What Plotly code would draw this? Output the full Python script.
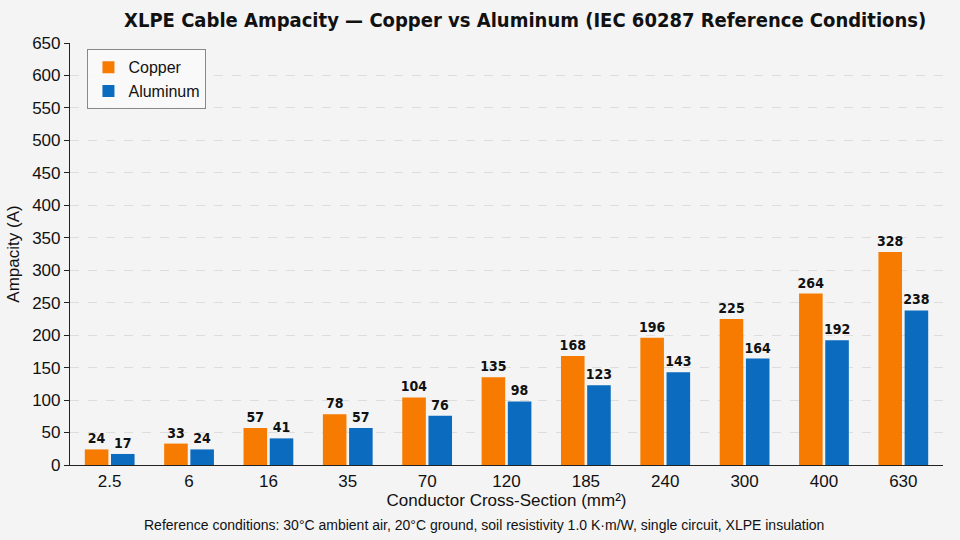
import plotly.graph_objects as go

sizes = ["2.5", "6", "16", "35", "70", "120", "185", "240", "300", "400", "630"]
copper = [24, 33, 57, 78, 104, 135, 168, 196, 225, 264, 328]
aluminum = [17, 24, 41, 57, 76, 98, 123, 143, 164, 192, 238]

ORANGE = "#F77B00"
BLUE = "#0B6BBE"
COND = "DejaVu Sans Condensed, Liberation Sans Narrow, Arial Narrow, sans-serif"
LBL_FONT = dict(family=COND, size=14, color="#111111")

fig = go.Figure()
fig.add_bar(x=sizes, y=copper, name="Copper", marker=dict(color=ORANGE, line=dict(width=0)),
            text=[f"<b>{v}</b>" for v in copper], textposition="outside", textfont=LBL_FONT,
            cliponaxis=False, constraintext="none")
fig.add_bar(x=sizes, y=aluminum, name="Aluminum", marker=dict(color=BLUE, line=dict(width=0)),
            text=[f"<b>{v}</b>" for v in aluminum], textposition="outside", textfont=LBL_FONT,
            cliponaxis=False, constraintext="none")

fig.update_layout(
    width=960, height=540,
    margin=dict(l=66, r=17, t=43, b=75),
    paper_bgcolor="#F4F4F4", plot_bgcolor="#F4F4F4",
    font=dict(family="Liberation Sans, Arial, sans-serif", size=16, color="#111111"),
    barmode="group", bargap=0.34, bargroupgap=0.1,
    title=dict(text="<b>XLPE Cable Ampacity — Copper vs Aluminum (IEC 60287 Reference Conditions)</b>",
               x=0.547, xanchor="center", y=0.963, yanchor="middle",
               font=dict(family=COND, size=20, color="#111111")),
    legend=dict(x=0.02, y=0.985, xanchor="left", yanchor="top", bgcolor="rgba(250,250,250,0.9)",
                bordercolor="#888888", borderwidth=1, font=dict(size=16), traceorder="normal"),
    uniformtext=dict(mode=False),
)
fig.update_yaxes(range=[0, 650], dtick=50, showline=True, linecolor="#222222", linewidth=1.2,
                 ticks="outside", ticklen=5, tickcolor="#222222",
                 showgrid=True, gridcolor="#DDDDDD", griddash="dash", gridwidth=1, zeroline=False,
                 tickfont=dict(size=17),
                 title=dict(text="Ampacity (A)", font=dict(size=17), standoff=8))
fig.update_xaxes(showline=True, linecolor="#222222", linewidth=1.2, ticks="",
                 tickfont=dict(size=17),
                 title=dict(text="Conductor Cross-Section (mm²)", font=dict(size=17), standoff=4),
                 type="category")
fig.add_annotation(text="Reference conditions: 30°C ambient air, 20°C ground, soil resistivity 1.0 K·m/W, single circuit, XLPE insulation",
                   xref="paper", yref="paper", x=0.474, y=-0.142, xanchor="center", yanchor="middle",
                   showarrow=False, font=dict(size=14, color="#111111"))

fig.write_html("out.html")
